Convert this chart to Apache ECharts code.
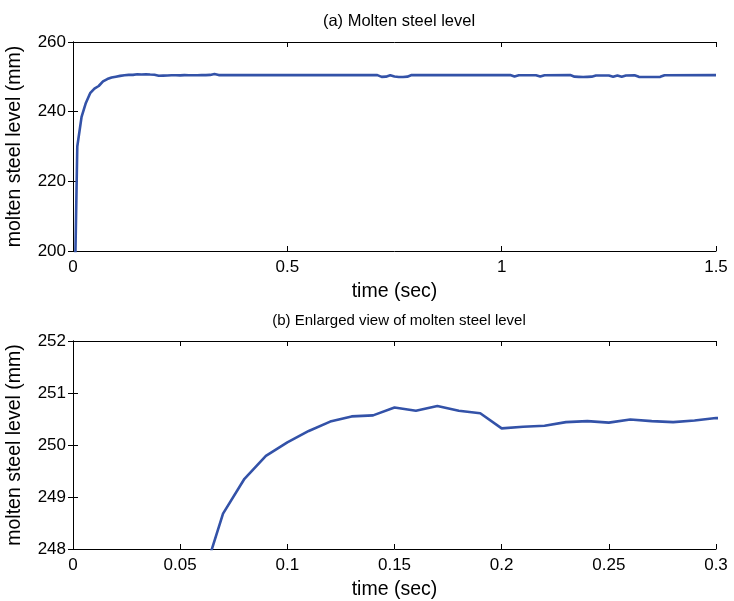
<!DOCTYPE html>
<html>
<head>
<meta charset="utf-8">
<script src="https://cdn.jsdelivr.net/npm/echarts@6/dist/echarts.min.js"></script>
<style>
html,body{margin:0;padding:0;background:#fff;}
#chart{width:734px;height:601px;}
</style>
</head>
<body>
<div id="chart"></div>
<script>
// time (sec) and molten steel level (mm)
var timeSec = [0, 0.01, 0.02, 0.03, 0.04, 0.05, 0.06, 0.07, 0.08, 0.09,
  0.10, 0.11, 0.12, 0.13, 0.14, 0.15, 0.16, 0.17, 0.18, 0.19,
  0.20, 0.21, 0.22, 0.23, 0.24, 0.25, 0.26, 0.27, 0.28, 0.29, 0.30,
  0.31, 0.32, 0.33, 0.34, 0.71, 0.72, 0.73, 0.74, 0.75, 0.76, 0.77, 0.78, 0.79,
  1.02, 1.03, 1.04, 1.08, 1.09, 1.10,
  1.16, 1.17, 1.18, 1.19, 1.20, 1.21, 1.22, 1.25, 1.26, 1.27, 1.28, 1.29,
  1.31, 1.32, 1.33, 1.36, 1.37, 1.38, 1.50];
var levelMm = [160, 230, 238.5, 242.5, 245.3, 246.6, 247.37, 248.68, 249.35, 249.79,
  250.05, 250.27, 250.45, 250.55, 250.57, 250.72, 250.66, 250.75, 250.66, 250.61,
  250.32, 250.35, 250.37, 250.44, 250.46, 250.43, 250.49, 250.46, 250.44, 250.47, 250.52,
  250.48, 250.55, 250.8, 250.5, 250.5, 250.0, 250.05, 250.45, 250.1, 249.95, 249.95, 250.05, 250.5,
  250.5, 250.1, 250.45, 250.45, 250.1, 250.45,
  250.5, 250.05, 250.0, 249.95, 250.0, 250.05, 250.4, 250.4, 250.05, 250.4, 250.05, 250.4,
  250.45, 250.0, 249.95, 249.95, 250.0, 250.45, 250.5];

var titleA = '(a) Molten steel level';
var titleB = '(b) Enlarged view of molten steel level';
var xName = 'time (sec)';
var yName = 'molten steel level (mm)';

var data = timeSec.map(function (t, i) { return [t, levelMm[i]]; });

var FONT = 'Liberation Sans, Arial, sans-serif';
var lineColor = '#3352a8';

function xAx(grid, min, max, interval, mirror) {
  return {
    type: 'value', gridIndex: grid, min: min, max: max, interval: interval,
    position: mirror ? 'top' : 'bottom',
    name: mirror ? '' : xName, nameLocation: 'middle', nameGap: 31,
    nameTextStyle: {fontFamily: FONT, fontSize: 19.5, color: '#000'},
    axisLine: {show: true, lineStyle: {color: '#000', width: 1}},
    axisTick: {show: true, inside: true, length: 5, lineStyle: {color: '#000'}},
    axisLabel: {show: !mirror, fontFamily: FONT, fontSize: 17, color: '#000', margin: 8},
    splitLine: {show: false}
  };
}
function yAx(grid, min, max, interval, mirror) {
  return {
    type: 'value', gridIndex: grid, min: min, max: max, interval: interval,
    position: mirror ? 'right' : 'left',
    name: mirror ? '' : yName, nameLocation: 'middle', nameGap: 48,
    nameTextStyle: {fontFamily: FONT, fontSize: 19.5, color: '#000'},
    axisLine: {show: true, lineStyle: {color: '#000', width: 1}},
    axisTick: {show: true, inside: true, length: 5, lineStyle: {color: '#000'}},
    axisLabel: {show: !mirror, fontFamily: FONT, fontSize: 17, color: '#000', margin: 7},
    splitLine: {show: false}
  };
}

var chart = echarts.init(document.getElementById('chart'), null, {renderer: 'canvas'});
chart.setOption({
  animation: false,
  backgroundColor: '#fff',
  title: [
    {text: titleA, left: 394, top: 8, textAlign: 'center',
     textStyle: {fontFamily: FONT, fontSize: 16.5, fontWeight: 'normal', color: '#000'}},
    {text: titleB, left: 394, top: 308, textAlign: 'center',
     textStyle: {fontFamily: FONT, fontSize: 15, fontWeight: 'normal', color: '#000'}}
  ],
  grid: [
    {left: 73, top: 42, width: 643, height: 209, containLabel: false, outerBoundsMode: 'none'},
    {left: 73, top: 341, width: 643, height: 208, containLabel: false, outerBoundsMode: 'none'}
  ],
  xAxis: [
    xAx(0, 0, 1.5, 0.5, false), xAx(0, 0, 1.5, 0.5, true),
    xAx(1, 0, 0.3, 0.05, false), xAx(1, 0, 0.3, 0.05, true)
  ],
  yAxis: [
    yAx(0, 200, 260, 20, false), yAx(0, 200, 260, 20, true),
    yAx(1, 248, 252, 1, false), yAx(1, 248, 252, 1, true)
  ],
  series: [
    {type: 'line', xAxisIndex: 0, yAxisIndex: 0, data: data, showSymbol: false,
     clip: true, lineStyle: {color: lineColor, width: 2.6}, itemStyle: {color: lineColor}},
    {type: 'line', xAxisIndex: 2, yAxisIndex: 2, data: data, showSymbol: false,
     clip: true, lineStyle: {color: lineColor, width: 2.6}, itemStyle: {color: lineColor}}
  ]
});
</script>
</body>
</html>
